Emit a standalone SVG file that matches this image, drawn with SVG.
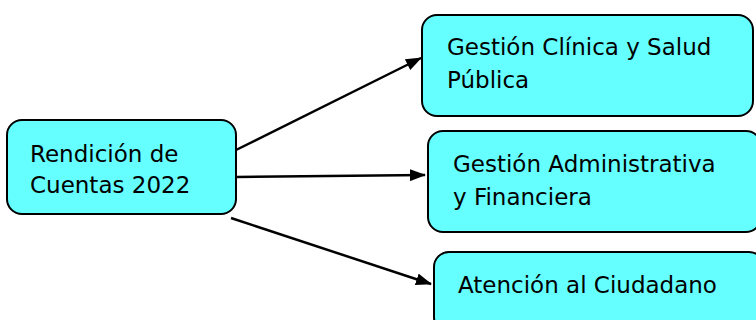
<svg xmlns="http://www.w3.org/2000/svg" width="756" height="320" viewBox="0 0 756 320">
<style>
.box{fill:#66FFFF;stroke:#000;stroke-width:2}
.t{font-family:"DejaVu Sans",Verdana,sans-serif;font-size:23px;fill:#000}
.c{stroke:#000;stroke-width:2.5;fill:none}
</style>
<defs>
<marker id="ah" viewBox="0 0 16 12" refX="15" refY="6" markerWidth="16" markerHeight="12" orient="auto" markerUnits="userSpaceOnUse">
<path d="M0,0 L16,6 L0,12 z" fill="#000"/>
</marker>
</defs>
<rect width="756" height="320" fill="#fff"/>
<g id="connectors">
<line class="c" x1="236" y1="150" x2="421" y2="58" marker-end="url(#ah)"/>
<line class="c" x1="236" y1="177" x2="425" y2="175" marker-end="url(#ah)"/>
<line class="c" x1="231" y1="218" x2="431" y2="284" marker-end="url(#ah)"/>
</g>
<g id="n1">
<rect class="box" x="7" y="120" width="229" height="94" rx="15"/>
<text class="t" x="30" y="162">Rendición de</text>
<text class="t" x="30" y="193">Cuentas 2022</text>
</g>
<g id="n2">
<rect class="box" x="422" y="15" width="331" height="101" rx="15"/>
<text class="t" x="447" y="55">Gestión Clínica y Salud</text>
<text class="t" x="447" y="88">Pública</text>
</g>
<g id="n3">
<rect class="box" x="428" y="131" width="333" height="101" rx="15"/>
<text class="t" x="453" y="172">Gestión Administrativa</text>
<text class="t" x="453" y="205">y Financiera</text>
</g>
<g id="n4">
<rect class="box" x="434" y="252" width="330" height="80" rx="15"/>
<text class="t" x="458" y="293">Atención al Ciudadano</text>
</g>
</svg>
